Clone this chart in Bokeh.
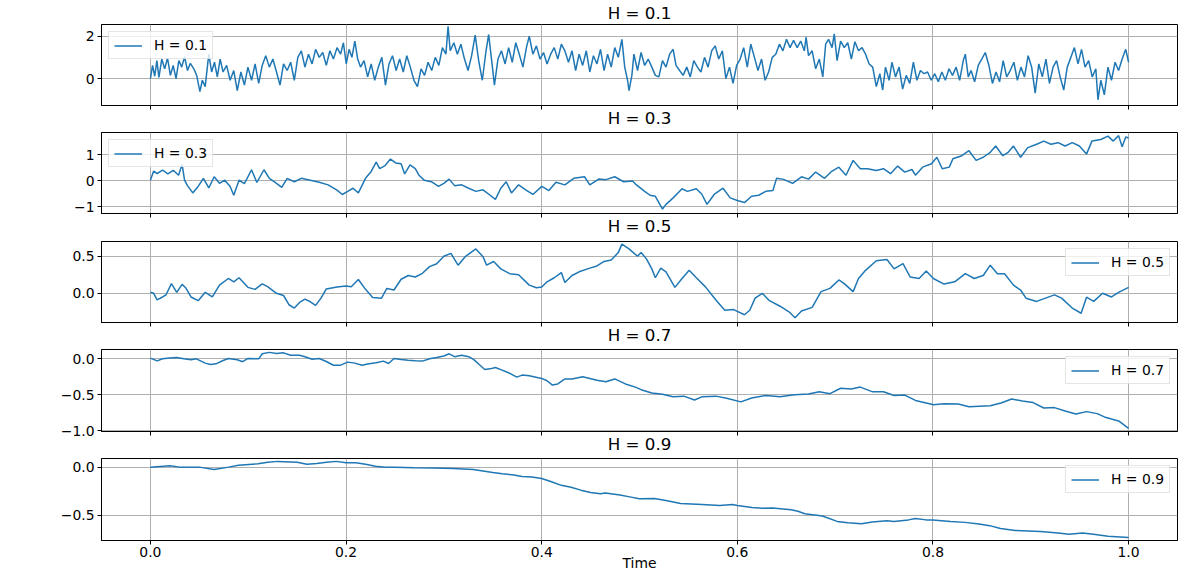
from bokeh.plotting import figure
from bokeh.layouts import column
from bokeh.models import Range1d, FixedTicker, GlobalInlineStyleSheet, Title
from bokeh.embed import file_html
from bokeh.resources import INLINE

# ---------------- data ----------------
series_labels = ["H = 0.1", "H = 0.3", "H = 0.5", "H = 0.7", "H = 0.9"]
time_ticks = [0.0, 0.2, 0.4, 0.6, 0.8, 1.0]
time_tick_labels = ["0.0", "0.2", "0.4", "0.6", "0.8", "1.0"]

t_h01 = [
    0.0, 0.0022, 0.0044, 0.0066, 0.0087, 0.0116, 0.0146, 0.0175, 0.0204, 0.0233,
    0.0262, 0.0291, 0.0320, 0.0349, 0.0379, 0.0408, 0.0444, 0.0473, 0.0506, 0.0531,
    0.0560, 0.0597, 0.0626, 0.0655, 0.0684, 0.0713, 0.0743, 0.0779, 0.0815, 0.0852,
    0.0888, 0.0925, 0.0961, 0.0997, 0.1034, 0.1070, 0.1107, 0.1143, 0.1179, 0.1216,
    0.1252, 0.1289, 0.1325, 0.1361, 0.1398, 0.1434, 0.1471, 0.1507, 0.1543, 0.1580,
    0.1616, 0.1653, 0.1689, 0.1726, 0.1762, 0.1798, 0.1835, 0.1871, 0.1908, 0.1944,
    0.1973, 0.2002, 0.2031, 0.2060, 0.2090, 0.2119, 0.2148, 0.2184, 0.2221, 0.2257,
    0.2293, 0.2330, 0.2366, 0.2403, 0.2439, 0.2475, 0.2512, 0.2548, 0.2585, 0.2621,
    0.2657, 0.2694, 0.2730, 0.2767, 0.2803, 0.2839, 0.2876, 0.2912, 0.2949, 0.2985,
    0.3021, 0.3043, 0.3065, 0.3102, 0.3138, 0.3174, 0.3211, 0.3247, 0.3284, 0.3320,
    0.3356, 0.3393, 0.3429, 0.3458, 0.3487, 0.3517, 0.3553, 0.3589, 0.3626, 0.3662,
    0.3699, 0.3735, 0.3771, 0.3808, 0.3844, 0.3873, 0.3910, 0.3946, 0.3983, 0.4019,
    0.4055, 0.4092, 0.4128, 0.4165, 0.4201, 0.4237, 0.4274, 0.4310, 0.4347, 0.4383,
    0.4419, 0.4456, 0.4492, 0.4529, 0.4565, 0.4601, 0.4638, 0.4674, 0.4711, 0.4747,
    0.4783, 0.4820, 0.4849, 0.4878, 0.4893, 0.4922,
    0.4943, 0.4980, 0.5016, 0.5053, 0.5089, 0.5126, 0.5162, 0.5198, 0.5235, 0.5271,
    0.5308, 0.5344, 0.5373, 0.5410, 0.5446, 0.5483, 0.5519, 0.5555, 0.5592, 0.5628,
    0.5665, 0.5701, 0.5738, 0.5774, 0.5810, 0.5847, 0.5883, 0.5920, 0.5956, 0.5993,
    0.6029, 0.6065, 0.6102, 0.6138, 0.6175, 0.6211, 0.6248, 0.6284, 0.6320, 0.6357,
    0.6393, 0.6430, 0.6466, 0.6503, 0.6539, 0.6575, 0.6612, 0.6648, 0.6685, 0.6703,
    0.6728, 0.6765, 0.6801, 0.6838, 0.6874, 0.6903, 0.6933, 0.6969, 0.6991, 0.7020,
    0.7056, 0.7093, 0.7129, 0.7166, 0.7202, 0.7239, 0.7275, 0.7311, 0.7348, 0.7384,
    0.7421, 0.7457, 0.7486, 0.7515, 0.7552, 0.7581, 0.7617, 0.7654, 0.7690, 0.7727,
    0.7763, 0.7800, 0.7836, 0.7872, 0.7909, 0.7945, 0.7982, 0.8018, 0.8055, 0.8091,
    0.8127, 0.8164, 0.8200, 0.8237, 0.8273, 0.8310, 0.8331, 0.8361, 0.8390, 0.8426,
    0.8463, 0.8499, 0.8535, 0.8572, 0.8608, 0.8645, 0.8681, 0.8718, 0.8754, 0.8790,
    0.8827, 0.8863, 0.8900, 0.8936, 0.8973, 0.9009, 0.9045, 0.9082, 0.9118, 0.9155,
    0.9191, 0.9228, 0.9264, 0.9300, 0.9337, 0.9373, 0.9410, 0.9446, 0.9483, 0.9519,
    0.9555, 0.9592, 0.9628, 0.9665, 0.9687, 0.9716, 0.9752, 0.9789, 0.9825, 0.9862,
    0.9898, 0.9934, 0.9971, 1.0,
]
v_h01 = [
    0.0, 0.62, 0.11, 0.85, 0.05, 0.92, 0.46, 0.97, 0.15, 0.62,
    0.0, 0.85, 0.54, 1.03, 0.38, 0.72, 0.46, 0.15, -0.62, -0.08,
    -0.38, 1.15, 0.31, 0.77, 0.08, 0.92, 0.31, 0.62, -0.08, 0.38,
    -0.57, 0.31, -0.31, 0.54, -0.08, 0.69, -0.23, 0.62, 1.08, 0.54,
    0.92, 0.31, -0.31, 0.69, 0.38, 0.77, -0.08, 1.0, 1.31, 0.54,
    1.15, 0.69, 1.38, 1.0, 1.23, 0.62, 1.31, 0.92, 1.46, 1.15,
    1.69, 0.69, 1.38, 1.0, 1.77, 0.92, 0.54, 0.85, 0.08, 0.69,
    -0.08, 0.54, 1.0, -0.31, 0.69, 1.08, 0.38, 0.92, 0.31, 1.08,
    0.54, -0.08, -0.38, 0.46, 0.15, 0.77, 0.38, 1.0, 0.62, 1.46,
    1.15, 2.46, 1.31, 1.69, 1.15, 1.62, 0.92, 0.38, 1.08, 2.05,
    0.85, -0.08, 1.23, 2.08, 0.92, -0.31, 0.92, 1.31, 0.69, 1.46,
    0.77, 1.69, 1.15, 0.54, 1.46, 2.0, 1.15, 1.54, 0.92, 1.23,
    0.69, 1.15, 1.46, 0.92, 1.62, 1.31, 0.77, 1.31, 0.38, 1.15,
    0.62, 1.31, 0.31, 1.08, 0.69, 1.38, 0.38, 1.15, 0.54, 1.46,
    1.0, 1.85, 0.54, -0.08, -0.57, 0.15,
    1.15, 0.38, 1.23, 0.62, 0.92, 0.54, 0.15, 0.08, 0.85, 0.54,
    1.15, 1.38, 0.62, 0.38, 0.15, 0.54, 0.08, 0.85, 0.54, 0.31,
    1.0, 0.54, 1.31, 1.54, 0.92, 1.31, 0.0, 0.54, -0.23, 0.62,
    0.92, 1.46, 0.54, 1.62, 1.0, 0.38, 0.92, -0.08, 0.31, 1.0,
    1.15, 1.62, 1.31, 1.85, 1.46, 1.8, 1.46, 1.77, 1.31, 1.95,
    1.08, 1.31, 0.46, 0.92, 0.08, 1.62, 1.85, 1.46, 2.11, 0.85,
    1.77, 1.46, 1.69, 0.92, 1.74, 1.31, 1.46, 1.15, 0.69, 0.54,
    -0.38, 0.23, -0.54, 0.54, -0.08, 0.77, 0.08, 0.54, -0.5, 0.15,
    -0.23, 0.77, -0.08, 0.38, 0.23, 0.31, -0.08, 0.23, -0.15, 0.31,
    -0.08, 0.46, 0.15, 0.54, -0.08, 0.85, 1.15, 0.08, 0.38, -0.15,
    0.62, 0.92, 1.23, 0.62, -0.23, 0.31, -0.15, 0.85, 0.08, 0.38,
    0.77, -0.08, 0.54, 0.08, 1.08, 0.54, -0.69, 0.69, 0.08, 0.92,
    -0.23, 0.54, 0.85, 0.08, -0.54, 0.54, 1.0, 1.46, 0.69, 1.38,
    0.54, 0.85, 0.08, 0.46, -1.0, -0.08, -0.77, 0.54, -0.08, 0.77,
    0.38, 0.92, 1.38, 0.77,
]

t_h03 = [
    0.0, 0.0033, 0.0069, 0.0124, 0.0178, 0.0233, 0.0288, 0.0324, 0.0349, 0.0379,
    0.0433, 0.0488, 0.0542, 0.0597, 0.0652, 0.0706, 0.0761, 0.0815, 0.0852, 0.0906,
    0.0961, 0.1034, 0.1088, 0.1161, 0.1216, 0.1289, 0.1343, 0.1398, 0.1471, 0.1543,
    0.1635, 0.1726, 0.1817, 0.1908, 0.1962, 0.2017, 0.2071, 0.2126, 0.2199, 0.2253,
    0.2308, 0.2344, 0.2399, 0.2454, 0.2508, 0.2563, 0.2599, 0.2654, 0.2708, 0.2745,
    0.2799, 0.2872, 0.2945, 0.3000, 0.3054, 0.3109, 0.3182, 0.3254, 0.3327, 0.3400,
    0.3473, 0.3527, 0.3582, 0.3637, 0.3691, 0.3764, 0.3837, 0.3910, 0.4001, 0.4074,
    0.4146, 0.4237, 0.4328, 0.4438, 0.4492, 0.4583, 0.4656, 0.4747, 0.4838, 0.4929,
    0.4962, 0.5053, 0.5107, 0.5162, 0.5235, 0.5271, 0.5344, 0.5435, 0.5490, 0.5581,
    0.5636, 0.5690, 0.5763, 0.5854, 0.5927, 0.6000, 0.6073, 0.6146, 0.6218, 0.6291,
    0.6364, 0.6401, 0.6473, 0.6565, 0.6656, 0.6728, 0.6801, 0.6892, 0.6965, 0.7038,
    0.7111, 0.7184, 0.7257, 0.7330, 0.7421, 0.7494, 0.7566, 0.7639, 0.7712, 0.7785,
    0.7821, 0.7894, 0.7985, 0.8040, 0.8095, 0.8167, 0.8204, 0.8295, 0.8368, 0.8441,
    0.8514, 0.8586, 0.8641, 0.8714, 0.8769, 0.8823, 0.8896, 0.8969, 0.9060, 0.9133,
    0.9206, 0.9279, 0.9351, 0.9424, 0.9497, 0.9570, 0.9625, 0.9716, 0.9789, 0.9843,
    0.9898, 0.9934, 0.9971, 1.0,
]
v_h03 = [
    0.02, 0.37, 0.27, 0.41, 0.26, 0.40, 0.21, 0.63, 0.02, -0.19,
    -0.47, -0.22, 0.09, -0.28, 0.15, -0.10, 0.02, -0.22, -0.56, 0.02,
    -0.11, 0.42, -0.07, 0.42, 0.09, -0.10, -0.26, 0.09, -0.04, 0.09,
    0.02, -0.06, -0.16, -0.36, -0.53, -0.41, -0.29, -0.47, 0.09, 0.33,
    0.71, 0.46, 0.58, 0.83, 0.68, 0.65, 0.26, 0.61, 0.46, 0.21,
    0.02, -0.04, -0.22, -0.10, 0.06, -0.19, -0.16, -0.29, -0.41, -0.35,
    -0.56, -0.72, -0.29, -0.04, -0.47, -0.16, -0.35, -0.53, -0.22, -0.38,
    -0.06, -0.16, 0.09, 0.15, -0.16, 0.06, 0.04, 0.15, -0.04, -0.01,
    -0.14, -0.41, -0.56, -0.60, -1.09, -0.91, -0.66, -0.31, -0.41, -0.31,
    -0.51, -0.91, -0.53, -0.29, -0.66, -0.76, -0.84, -0.60, -0.56, -0.41,
    -0.38, 0.09, 0.05, -0.10, 0.15, 0.06, 0.33, 0.09, 0.36, 0.52,
    0.21, 0.78, 0.46, 0.46, 0.39, 0.46, 0.27, 0.56, 0.33, 0.43,
    0.21, 0.52, 0.65, 0.90, 0.46, 0.52, 0.84, 0.96, 1.15, 0.78,
    0.90, 1.09, 1.33, 0.96, 1.09, 1.33, 0.90, 1.27, 1.40, 1.52,
    1.40, 1.46, 1.33, 1.46, 1.33, 1.02, 1.52, 1.58, 1.71, 1.52,
    1.73, 1.30, 1.68, 1.64,
]

t_h05 = [
    0.0, 0.0033, 0.0069, 0.0124, 0.0160, 0.0215, 0.0269, 0.0324, 0.0360, 0.0415,
    0.0488, 0.0561, 0.0633, 0.0706, 0.0797, 0.0852, 0.0906, 0.0997, 0.1070, 0.1143,
    0.1198, 0.1289, 0.1361, 0.1416, 0.1471, 0.1525, 0.1580, 0.1635, 0.1689, 0.1744,
    0.1798, 0.1908, 0.1999, 0.2053, 0.2126, 0.2199, 0.2272, 0.2363, 0.2417, 0.2490,
    0.2563, 0.2636, 0.2708, 0.2781, 0.2854, 0.2927, 0.3000, 0.3072, 0.3145, 0.3218,
    0.3327, 0.3400, 0.3437, 0.3509, 0.3582, 0.3673, 0.3764, 0.3873, 0.3946, 0.4001,
    0.4055, 0.4128, 0.4201, 0.4237, 0.4310, 0.4383, 0.4492, 0.4565, 0.4638, 0.4711,
    0.4783, 0.4820, 0.4893,
    0.4980, 0.5016, 0.5071, 0.5126, 0.5162, 0.5217, 0.5271, 0.5362, 0.5435, 0.5508,
    0.5581, 0.5672, 0.5781, 0.5872, 0.5963, 0.6073, 0.6127, 0.6182, 0.6255, 0.6328,
    0.6437, 0.6528, 0.6590, 0.6656, 0.6765, 0.6856, 0.6947, 0.7038, 0.7093, 0.7184,
    0.7239, 0.7311, 0.7421, 0.7530, 0.7603, 0.7694, 0.7767, 0.7858, 0.7931, 0.8004,
    0.8113, 0.8222, 0.8331, 0.8422, 0.8514, 0.8586, 0.8659, 0.8732, 0.8823, 0.8896,
    0.8951, 0.9060, 0.9151, 0.9242, 0.9315, 0.9424, 0.9515, 0.9570, 0.9643, 0.9734,
    0.9825, 0.9898, 1.0,
]
v_h05 = [
    0.013, 0.0, -0.09, -0.05, -0.02, 0.13, 0.013, 0.12, 0.075, -0.05,
    -0.10, 0.013, -0.05, 0.11, 0.20, 0.155, 0.21, 0.08, 0.053, 0.128,
    0.09, 0.0, -0.03, -0.155, -0.20, -0.124, -0.08, -0.115, -0.164, -0.066,
    0.058, 0.084, 0.097, 0.088, 0.186, 0.053, -0.058, -0.066, 0.066, 0.044,
    0.19, 0.24, 0.22, 0.27, 0.36, 0.40, 0.50, 0.54, 0.38, 0.495,
    0.60, 0.495, 0.38, 0.43, 0.33, 0.265, 0.25, 0.11, 0.075, 0.084,
    0.155, 0.21, 0.28, 0.146, 0.24, 0.29, 0.34, 0.37, 0.43, 0.45,
    0.55, 0.665, 0.60,
    0.50, 0.55, 0.465, 0.33, 0.21, 0.34, 0.29, 0.08, 0.20, 0.31,
    0.21, 0.09, -0.09, -0.23, -0.22, -0.29, -0.23, -0.066, 0.0, -0.10,
    -0.175, -0.25, -0.33, -0.24, -0.19, 0.022, 0.066, 0.18, 0.13, 0.022,
    0.20, 0.31, 0.44, 0.456, 0.33, 0.40, 0.22, 0.20, 0.30, 0.20,
    0.124, 0.155, 0.265, 0.20, 0.24, 0.38, 0.265, 0.265, 0.11, 0.044,
    -0.066, -0.11, -0.066, -0.022, -0.066, -0.20, -0.27, -0.053, -0.11, 0.0,
    -0.05, 0.013, 0.08,
]

t_h07 = [
    0.0, 0.0069, 0.0124, 0.0197, 0.0269, 0.0342, 0.0415, 0.0469, 0.0561, 0.0615,
    0.0670, 0.0743, 0.0797, 0.0888, 0.0943, 0.0997, 0.1107, 0.1143, 0.1216, 0.1289,
    0.1361, 0.1434, 0.1525, 0.1580, 0.1653, 0.1726, 0.1798, 0.1871, 0.1944, 0.2017,
    0.2090, 0.2162, 0.2235, 0.2308, 0.2381, 0.2435, 0.2490, 0.2563, 0.2636, 0.2708,
    0.2781, 0.2854, 0.2927, 0.3000, 0.3054, 0.3109, 0.3182, 0.3254, 0.3309, 0.3364,
    0.3418, 0.3473, 0.3527, 0.3582, 0.3655, 0.3746, 0.3800, 0.3873, 0.3964, 0.4001,
    0.4055, 0.4110, 0.4165, 0.4237, 0.4310, 0.4419, 0.4492, 0.4565, 0.4656, 0.4747,
    0.4856, 0.4965,
    0.5016, 0.5126, 0.5235, 0.5344, 0.5453, 0.5563, 0.5636, 0.5781, 0.5891, 0.6036,
    0.6146, 0.6291, 0.6437, 0.6583, 0.6728, 0.6838, 0.6947, 0.7056, 0.7166, 0.7257,
    0.7384, 0.7494, 0.7603, 0.7712, 0.7821, 0.7931, 0.8004, 0.8113, 0.8259, 0.8368,
    0.8477, 0.8586, 0.8696, 0.8805, 0.8914, 0.9024, 0.9133, 0.9242, 0.9351, 0.9461,
    0.9570, 0.9679, 0.9752, 0.9825, 0.9898, 1.0,
]
v_h07 = [
    0.01, -0.028, 0.0, 0.01, 0.018, 0.0, -0.014, 0.0, -0.06, -0.08,
    -0.07, -0.023, 0.005, -0.014, -0.04, 0.005, 0.0, 0.07, 0.09, 0.074,
    0.083, 0.05, 0.05, 0.028, -0.005, 0.005, -0.037, -0.09, -0.088, -0.046,
    -0.06, -0.09, -0.07, -0.055, -0.032, -0.065, 0.005, -0.01, -0.02, -0.028,
    -0.032, 0.0, 0.018, 0.04, 0.07, 0.03, 0.05, 0.03, -0.014, -0.083,
    -0.148, -0.14, -0.12, -0.15, -0.19, -0.255, -0.227, -0.236, -0.264, -0.273,
    -0.305, -0.366, -0.35, -0.28, -0.28, -0.25, -0.273, -0.30, -0.32, -0.28,
    -0.35, -0.398,
    -0.43, -0.477, -0.495, -0.53, -0.52, -0.574, -0.53, -0.52, -0.55, -0.60,
    -0.546, -0.51, -0.53, -0.50, -0.49, -0.46, -0.486, -0.41, -0.42, -0.394,
    -0.46, -0.46, -0.51, -0.505, -0.58, -0.616, -0.64, -0.625, -0.63, -0.667,
    -0.66, -0.653, -0.616, -0.56, -0.588, -0.61, -0.685, -0.68, -0.727, -0.77,
    -0.736, -0.764, -0.81, -0.84, -0.866, -0.97,
]

t_h09 = [
    0.0, 0.02, 0.03, 0.05, 0.065, 0.08, 0.09, 0.11, 0.12, 0.13,
    0.15, 0.16, 0.17, 0.18, 0.19, 0.20, 0.21, 0.22, 0.23, 0.24,
    0.25, 0.27, 0.29, 0.31, 0.33, 0.35, 0.36, 0.37, 0.38, 0.39,
    0.40, 0.41, 0.42, 0.43, 0.44, 0.45, 0.46, 0.465, 0.48, 0.49,
    0.50, 0.515, 0.527, 0.542, 0.564, 0.582, 0.595, 0.60, 0.615, 0.626,
    0.636, 0.655, 0.662, 0.669, 0.687, 0.702, 0.713, 0.727, 0.738, 0.753,
    0.760, 0.775, 0.782, 0.793, 0.80, 0.818, 0.833, 0.847, 0.858, 0.869,
    0.884, 0.91, 0.928, 0.939, 0.953, 0.964, 0.979, 1.0,
]
v_h09 = [
    0.0, 0.014, 0.0, 0.0, -0.024, 0.0, 0.02, 0.035, 0.05, 0.06,
    0.05, 0.03, 0.038, 0.05, 0.06, 0.045, 0.045, 0.03, 0.01, 0.0,
    0.0, -0.007, -0.01, -0.014, -0.024, -0.055, -0.07, -0.08, -0.097, -0.104,
    -0.118, -0.153, -0.19, -0.21, -0.24, -0.264, -0.278, -0.27, -0.29, -0.31,
    -0.33, -0.326, -0.347, -0.38, -0.39, -0.40, -0.39, -0.40, -0.42, -0.43,
    -0.427, -0.444, -0.46, -0.486, -0.51, -0.566, -0.58, -0.59, -0.573, -0.56,
    -0.567, -0.55, -0.535, -0.55, -0.55, -0.566, -0.576, -0.594, -0.61, -0.64,
    -0.66, -0.67, -0.687, -0.70, -0.687, -0.70, -0.72, -0.733,
]

ticks_h01 = [0, 2]
tick_labels_h01 = ["0", "2"]
ticks_h03 = [-1, 0, 1]
tick_labels_h03 = ["\u22121", "0", "1"]
ticks_h05 = [0.0, 0.5]
tick_labels_h05 = ["0.0", "0.5"]
ticks_h07 = [-1.0, -0.5, 0.0]
tick_labels_h07 = ["\u22121.0", "\u22120.5", "0.0"]
ticks_h09 = [-0.5, 0.0]
tick_labels_h09 = ["\u22120.5", "0.0"]

# ---------------- layout / style ----------------
FONT = "DejaVu Sans"
BLUE = "#1f77b4"
TITLE_SIZE = "16.7px"

panels = [
    dict(t=t_h01, v=v_h01, yr=(-1.27, 2.55), yt=ticks_h01, ytl=tick_labels_h01, leg="top_left", top=24, fh=81, bot=27),
    dict(t=t_h03, v=v_h03, yr=(-1.26, 1.85), yt=ticks_h03, ytl=tick_labels_h03, leg="top_left", top=0, fh=81, bot=28),
    dict(t=t_h05, v=v_h05, yr=(-0.395, 0.70), yt=ticks_h05, ytl=tick_labels_h05, leg="top_right", top=0, fh=81, bot=27),
    dict(t=t_h07, v=v_h07, yr=(-1.013, 0.13), yt=ticks_h07, ytl=tick_labels_h07, leg="top_right", top=0, fh=82, bot=27),
    dict(t=t_h09, v=v_h09, yr=(-0.765, 0.09), yt=ticks_h09, ytl=tick_labels_h09, leg="top_right", top=0, fh=82, bot=34),
]


def style_title(tt, valign, standoff):
    tt.align = "center"
    tt.vertical_align = valign
    tt.standoff = standoff
    tt.text_font = FONT
    tt.text_font_size = TITLE_SIZE
    tt.text_font_style = "normal"
    tt.text_color = "black"


figs = []
for i, pn in enumerate(panels):
    last = i == len(panels) - 1
    label = series_labels[i]
    lo, hi = pn["yr"]
    p = figure(frame_width=1076, frame_height=pn["fh"],
               min_border_left=101, min_border_right=15,
               min_border_top=pn["top"], min_border_bottom=pn["bot"],
               x_range=Range1d(-0.05, 1.05), y_range=Range1d(lo, hi),
               toolbar_location=None, output_backend="svg")
    p.line(pn["t"], pn["v"], line_color=BLUE, line_width=1.5, legend_label=label)

    if i == 0:
        p.title.text = label
        style_title(p.title, "top", 0)

    p.outline_line_color = "black"
    p.outline_line_alpha = 1.0
    p.outline_line_width = 1

    p.yaxis.ticker = FixedTicker(ticks=pn["yt"])
    p.yaxis.major_label_overrides = dict(zip(pn["yt"], pn["ytl"]))

    p.axis.major_tick_out = 4
    p.axis.major_tick_in = 0
    p.axis.minor_tick_out = 0
    p.axis.minor_tick_in = 0
    p.axis.axis_line_color = "black"
    p.axis.major_tick_line_color = "black"
    p.axis.major_label_text_font = FONT
    p.axis.major_label_text_font_size = "13.9px"
    p.axis.major_label_text_color = "black"
    p.yaxis.major_label_standoff = 3

    if last:
        p.xaxis.ticker = FixedTicker(ticks=time_ticks)
        p.xaxis.major_label_overrides = dict(zip(time_ticks, time_tick_labels))
        p.xaxis.major_label_standoff = 2
        p.xaxis.axis_label = "Time"
        p.xaxis.axis_label_text_font = FONT
        p.xaxis.axis_label_text_font_size = "13.9px"
        p.xaxis.axis_label_text_font_style = "normal"
        p.xaxis.axis_label_text_color = "black"
        p.xaxis.axis_label_standoff = -5
    else:
        # shared x axis: tick marks only, no labels
        p.xaxis.ticker = FixedTicker(ticks=[], minor_ticks=time_ticks)
        p.xaxis.minor_tick_out = 4
        p.xaxis.minor_tick_line_color = "black"
        p.xaxis.major_label_standoff = 0
        p.xgrid.ticker = FixedTicker(ticks=time_ticks)
        # the next subplot's title sits in the gap below this frame
        nt = Title(text=series_labels[i + 1])
        style_title(nt, "top", -4)
        p.add_layout(nt, "below")

    p.grid.grid_line_color = "#b0b0b0"
    p.grid.grid_line_width = 1

    lg = p.legend[0]
    lg.location = pn["leg"]
    lg.margin = 7
    lg.padding = 5
    lg.spacing = 0
    lg.glyph_width = 28
    lg.glyph_height = 13
    lg.label_height = 13
    lg.label_standoff = 12
    lg.label_text_font = FONT
    lg.label_text_font_size = "13.9px"
    lg.label_text_color = "black"
    lg.border_line_color = "#cccccc"
    lg.border_line_width = 1
    lg.background_fill_alpha = 0.8

    figs.append(p)

layout = column(*figs, spacing=0,
                stylesheets=[GlobalInlineStyleSheet(css="html, body { overflow: hidden; }")])

open("out.html", "w").write(file_html(layout, INLINE, "fBm paths"))
